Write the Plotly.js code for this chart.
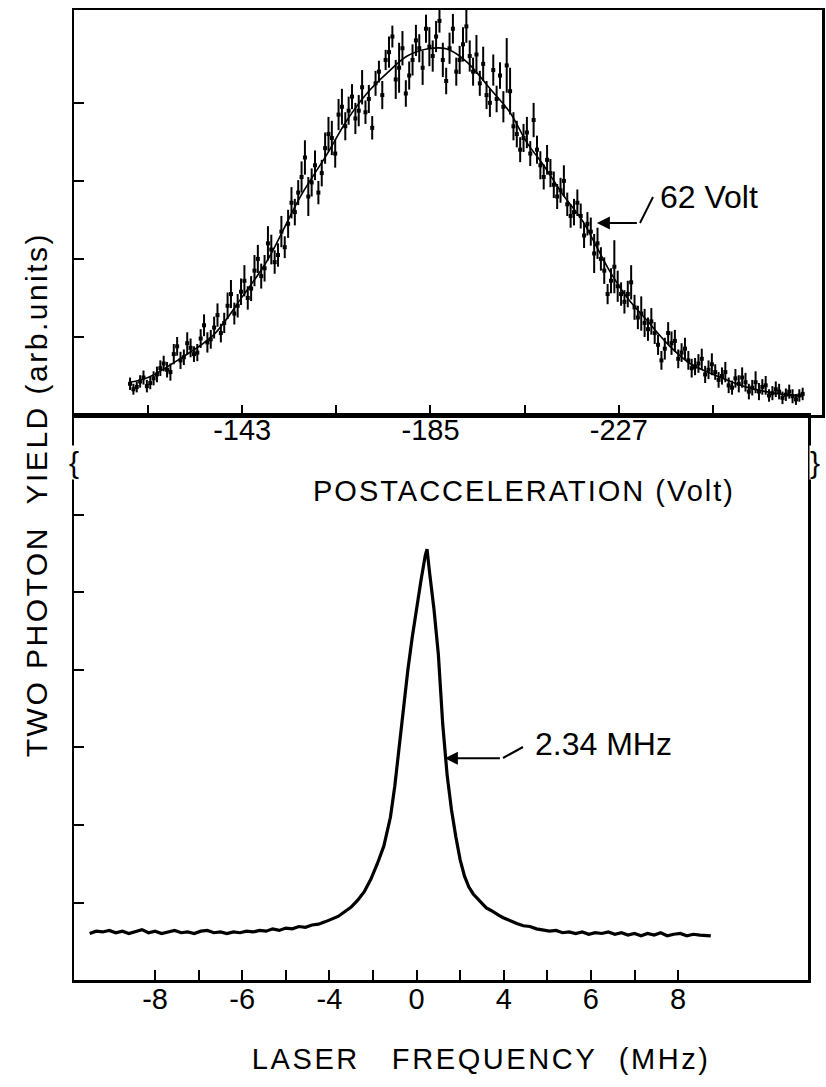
<!DOCTYPE html>
<html><head><meta charset="utf-8">
<script src="https://cdn.plot.ly/plotly-3.0.1.min.js"></script>
<style>html,body{margin:0;padding:0;background:#fff}#chart{width:826px;height:1087px}</style>
</head><body><div id="chart"></div>
<script>
// ---- Top panel: two-photon yield vs postacceleration voltage (two interleaved sweeps) ----
const postVoltA = [-118.0,-119.5,-121.0,-122.5,-124.0,-125.5,-127.0,-128.5,-130.0,-131.5,-133.0,-134.5,-136.0,-137.5,-139.0,-140.5,-142.0,-143.5,-145.0,-146.5,-148.0,-149.5,-151.0,-152.5,-154.0,-155.5,-157.0,-158.5,-160.0,-161.5,-163.0,-164.5,-166.0,-167.5,-169.0,-170.5,-172.0,-173.5,-175.0,-176.5,-178.0,-179.5,-181.0,-182.5,-184.0,-185.5,-187.0,-188.5,-190.0,-191.5,-193.0,-194.5,-196.0,-197.5,-199.0,-200.5,-202.0,-203.5,-205.0,-206.5,-208.0,-209.5,-211.0,-212.5,-214.0,-215.5,-217.0,-218.5,-220.0,-221.5,-223.0,-224.5,-226.0,-227.5,-229.0,-230.5,-232.0,-233.5,-235.0,-236.5,-238.0,-239.5,-241.0,-242.5,-244.0,-245.5,-247.0,-248.5,-250.0,-251.5,-253.0,-254.5,-256.0,-257.5,-259.0,-260.5,-262.0,-263.5,-265.0,-266.5,-268.0];
const postYieldA = [0.40,0.36,0.48,0.41,0.52,0.66,0.55,0.88,0.74,0.86,0.80,1.15,0.97,1.28,1.18,1.55,1.40,1.72,1.62,2.00,1.88,2.12,2.05,2.15,2.72,2.85,3.30,2.98,2.85,3.42,3.55,3.85,3.70,4.08,3.90,3.88,3.68,4.40,4.55,4.85,4.45,4.12,4.55,4.70,4.95,4.60,5.05,4.28,4.95,4.55,4.98,4.40,4.25,4.10,4.42,4.35,4.48,3.70,3.40,3.62,3.78,3.20,3.27,2.95,2.88,2.70,2.60,2.55,2.45,2.07,2.00,1.55,1.90,1.55,1.55,1.38,1.30,1.10,1.05,0.70,1.05,0.95,0.80,0.70,0.62,0.72,0.58,0.55,0.50,0.38,0.47,0.48,0.30,0.42,0.36,0.25,0.33,0.22,0.30,0.20,0.27];
const postErrA = [0.08,0.07,0.09,0.08,0.10,0.10,0.11,0.12,0.10,0.12,0.11,0.14,0.12,0.15,0.13,0.18,0.15,0.20,0.16,0.18,0.17,0.19,0.15,0.14,0.20,0.16,0.22,0.18,0.15,0.20,0.22,0.20,0.18,0.16,0.20,0.15,0.15,0.14,0.13,0.14,0.32,0.17,0.20,0.18,0.18,0.20,0.15,0.17,0.19,0.18,0.21,0.18,0.16,0.18,0.20,0.17,0.35,0.18,0.16,0.20,0.22,0.18,0.19,0.17,0.16,0.15,0.17,0.16,0.15,0.25,0.15,0.13,0.34,0.15,0.17,0.16,0.22,0.15,0.14,0.12,0.14,0.14,0.12,0.12,0.11,0.13,0.12,0.10,0.11,0.10,0.12,0.13,0.10,0.14,0.10,0.08,0.10,0.08,0.09,0.07,0.08];
const postVoltB = [-118.75,-120.25,-121.75,-123.25,-124.75,-126.25,-127.75,-129.25,-130.75,-132.25,-133.75,-135.25,-136.75,-138.25,-139.75,-141.25,-142.75,-144.25,-145.75,-147.25,-148.75,-150.25,-151.75,-153.25,-154.75,-156.25,-157.75,-159.25,-160.75,-162.25,-163.75,-165.25,-166.75,-168.25,-169.75,-171.25,-172.75,-174.25,-175.75,-177.25,-178.75,-180.25,-181.75,-183.25,-184.75,-186.25,-187.75,-189.25,-190.75,-192.25,-193.75,-195.25,-196.75,-198.25,-199.75,-201.25,-202.75,-204.25,-205.75,-207.25,-208.75,-210.25,-211.75,-213.25,-214.75,-216.25,-217.75,-219.25,-220.75,-222.25,-223.75,-225.25,-226.75,-228.25,-229.75,-231.25,-232.75,-234.25,-235.75,-237.25,-238.75,-240.25,-241.75,-243.25,-244.75,-246.25,-247.75,-249.25,-250.75,-252.25,-253.75,-255.25,-256.75,-258.25,-259.75,-261.25,-262.75,-264.25,-265.75,-267.25];
const postYieldB = [0.33,0.43,0.37,0.47,0.60,0.58,0.78,0.70,0.92,0.78,0.98,0.93,1.12,1.05,1.40,1.30,1.58,1.50,1.85,1.78,2.20,1.96,2.35,2.45,2.60,3.05,2.80,3.20,3.10,3.60,3.35,3.95,3.90,3.80,4.20,4.05,4.25,4.10,4.65,4.30,4.70,4.35,4.80,4.45,4.72,4.85,4.55,4.70,4.40,4.75,4.60,4.62,4.50,4.00,4.05,3.95,4.15,3.60,3.55,3.35,3.40,3.05,3.10,2.80,3.00,2.55,2.72,2.30,2.35,2.20,1.85,1.72,1.65,1.45,1.70,1.25,1.18,1.20,0.90,0.85,0.92,0.72,0.85,0.60,0.66,0.52,0.65,0.45,0.55,0.35,0.40,0.42,0.35,0.30,0.38,0.28,0.30,0.26,0.24,0.25];
const postErrB = [0.07,0.08,0.08,0.09,0.10,0.10,0.13,0.11,0.14,0.10,0.12,0.13,0.14,0.12,0.17,0.14,0.17,0.15,0.20,0.16,0.22,0.15,0.20,0.18,0.17,0.20,0.25,0.19,0.17,0.22,0.18,0.23,0.18,0.20,0.22,0.18,0.16,0.18,0.20,0.25,0.22,0.18,0.20,0.22,0.25,0.20,0.22,0.20,0.18,0.22,0.20,0.25,0.22,0.18,0.17,0.20,0.30,0.17,0.18,0.16,0.18,0.16,0.18,0.16,0.20,0.15,0.17,0.16,0.18,0.20,0.17,0.16,0.20,0.15,0.22,0.15,0.18,0.17,0.13,0.14,0.15,0.12,0.14,0.12,0.12,0.11,0.14,0.10,0.13,0.09,0.11,0.12,0.10,0.11,0.12,0.09,0.10,0.08,0.09,0.08];
const fitVolt = [-118,-122,-129.1,-136.5,-143.2,-148.5,-155.9,-161.9,-166.4,-170.8,-175.3,-179.8,-184.2,-188.7,-193.2,-198.3,-202.7,-206.5,-210.1,-214.6,-219,-222.1,-225,-228.8,-233.3,-238.4,-242.9,-248.9,-254.7,-260.7,-268.1];
const fitYield = [0.42,0.48,0.72,1.02,1.53,1.97,2.79,3.34,3.78,4.12,4.38,4.60,4.69,4.69,4.52,4.18,3.88,3.49,3.21,2.82,2.48,2.15,1.84,1.51,1.21,0.88,0.66,0.50,0.37,0.29,0.24];
const topTickVals = [-122,-143,-164,-185,-206,-227,-248];
const topTickText = ['','-143','','-185','','-227',''];

// ---- Bottom panel: two-photon yield vs laser frequency (axis in tick-position units) ----
const freqPos = [-9.5,-9.35,-9.2,-9.05,-8.9,-8.75,-8.6,-8.45,-8.3,-8.15,-8.0,-7.85,-7.7,-7.55,-7.4,-7.25,-7.1,-6.95,-6.8,-6.65,-6.5,-6.35,-6.2,-6.05,-5.9,-5.75,-5.6,-5.45,-5.3,-5.15,-5.0,-4.85,-4.7,-4.55,-4.4,-4.25,-4.1,-3.95,-3.8,-3.65,-3.5,-3.35,-3.2,-3.05,-2.9,-2.75,-2.6,-2.5,-2.4,-2.3,-2.2,-2.1,-2.0,-1.9,-1.8,-1.76,-1.7,-1.6,-1.5,-1.4,-1.3,-1.2,-1.1,-1.0,-0.9,-0.8,-0.7,-0.6,-0.5,-0.4,-0.3,-0.2,-0.1,0.0,0.15,0.3,0.45,0.6,0.75,0.9,1.05,1.2,1.35,1.5,1.65,1.8,1.95,2.1,2.25,2.4,2.55,2.7,2.85,3.0,3.15,3.3,3.45,3.6,3.75,3.9,4.05,4.2,4.35,4.5,4.65,4.75];
const freqYield = [0.60,0.63,0.62,0.64,0.61,0.63,0.60,0.62,0.65,0.61,0.63,0.60,0.62,0.64,0.61,0.62,0.60,0.63,0.64,0.61,0.62,0.60,0.62,0.61,0.63,0.62,0.64,0.63,0.66,0.64,0.67,0.66,0.69,0.68,0.71,0.72,0.75,0.78,0.82,0.88,0.94,1.03,1.14,1.30,1.50,1.73,2.10,2.50,3.00,3.52,4.00,4.42,4.80,5.15,5.48,5.56,5.25,4.78,4.20,3.30,2.65,2.20,1.85,1.55,1.34,1.20,1.11,1.05,0.99,0.93,0.90,0.86,0.83,0.80,0.76,0.73,0.70,0.69,0.66,0.65,0.63,0.64,0.61,0.62,0.60,0.62,0.59,0.61,0.60,0.62,0.59,0.61,0.58,0.60,0.57,0.60,0.58,0.61,0.57,0.59,0.60,0.57,0.59,0.58,0.57,0.57];
const botTickVals = [-8,-7,-6,-5,-4,-3,-2,-1,0,1,2,3,4];
const botTickText = ['-8','','-6','','-4','','0','','4','','6','','8'];

const W = 826, H = 1087;
const px = v => v / W;
const py = v => 1 - v / H;
const FONT = 'Liberation Sans, Arial, Helvetica, sans-serif';

const errStyle = {type: 'data', visible: true, color: '#000', thickness: 2, width: 0};
const traces = [
  {x: postVoltA, y: postYieldA, type: 'scatter', mode: 'markers', xaxis: 'x', yaxis: 'y',
   marker: {color: '#000', size: 4, symbol: 'square'},
   error_y: Object.assign({array: postErrA}, errStyle), hoverinfo: 'skip', showlegend: false},
  {x: postVoltB, y: postYieldB, type: 'scatter', mode: 'markers', xaxis: 'x', yaxis: 'y',
   marker: {color: '#000', size: 4, symbol: 'square'},
   error_y: Object.assign({array: postErrB}, errStyle), hoverinfo: 'skip', showlegend: false},
  {x: fitVolt, y: fitYield, type: 'scatter', mode: 'lines', xaxis: 'x', yaxis: 'y',
   line: {color: '#000', width: 1.6, shape: 'spline', smoothing: 1}, showlegend: false},
  {x: freqPos, y: freqYield, type: 'scatter', mode: 'lines', xaxis: 'x2', yaxis: 'y2',
   line: {color: '#000', width: 3.2}, showlegend: false}
];

const axCommon = {showgrid: false, zeroline: false, showline: true, linecolor: '#000', linewidth: 2.5,
  mirror: true, ticks: 'inside', ticklen: 10, tickwidth: 2, tickcolor: '#000',
  tickfont: {family: FONT, size: 29, color: '#000'}};

const layout = {
  width: W, height: H, margin: {l: 0, r: 0, t: 0, b: 0},
  paper_bgcolor: '#fff', plot_bgcolor: '#fff', showlegend: false,
  font: {family: FONT, color: '#000'},
  xaxis: Object.assign({}, axCommon, {domain: [px(74), px(822)], range: [-105.50, -272.31], anchor: 'y',
    tickmode: 'array', tickvals: topTickVals, ticktext: topTickText, ticklabelstandoff: -12}),
  yaxis: Object.assign({}, axCommon, {domain: [py(415), py(10)], range: [0, 5.19], anchor: 'x',
    tickmode: 'array', tickvals: [1, 2, 3, 4], showticklabels: false}),
  xaxis2: Object.assign({}, axCommon, {domain: [px(74), px(808)], range: [-9.859, 6.98], anchor: 'y2',
    tickmode: 'array', tickvals: botTickVals, ticktext: botTickText, ticklabelstandoff: -8}),
  yaxis2: Object.assign({}, axCommon, {domain: [py(980), py(415)], range: [0, 7.29], anchor: 'x2',
    tickmode: 'array', tickvals: [1, 2, 3, 4, 5, 6], showticklabels: false}),
  annotations: [
    {text: 'TWO PHOTON\u00a0\u00a0YIELD (arb.units)', xref: 'paper', yref: 'paper', x: px(37), y: py(495),
     xanchor: 'center', yanchor: 'middle', textangle: -90, showarrow: false,
     font: {family: FONT, size: 30, color: '#000'}},
    {text: 'POSTACCELERATION (Volt)', xref: 'paper', yref: 'paper', x: px(524), y: py(491),
     xanchor: 'center', yanchor: 'middle', showarrow: false, font: {family: FONT, size: 29, color: '#000'}},
    {text: 'LASER\u00a0\u00a0\u00a0FREQUENCY\u00a0\u00a0(MHz)', xref: 'paper', yref: 'paper', x: px(481), y: py(1059),
     xanchor: 'center', yanchor: 'middle', showarrow: false, font: {family: FONT, size: 29, color: '#000'}},
    {text: '62 Volt', xref: 'paper', yref: 'paper', x: px(658), y: py(197), xanchor: 'left', yanchor: 'middle',
     showarrow: false, font: {family: FONT, size: 32, color: '#000'}},
    {text: ' ', xref: 'x', yref: 'y', x: -222.1, y: 2.46, ax: 43, ay: 0, showarrow: true,
     arrowhead: 2, arrowsize: 1.3, arrowwidth: 2, arrowcolor: '#000'},
    {text: '2.34 MHz', xref: 'paper', yref: 'paper', x: px(533), y: py(744), xanchor: 'left', yanchor: 'middle',
     showarrow: false, font: {family: FONT, size: 32, color: '#000'}},
    {text: ' ', xref: 'x2', yref: 'y2', x: -1.35, y: 2.86, ax: 58, ay: 0, showarrow: true,
     arrowhead: 2, arrowsize: 1.3, arrowwidth: 2, arrowcolor: '#000'},
    {text: '{', xref: 'paper', yref: 'paper', x: px(74), y: py(462), xanchor: 'center', yanchor: 'middle',
     showarrow: false, bgcolor: '#fff', borderpad: 0, font: {family: FONT, size: 30, color: '#000'}},
    {text: '}', xref: 'paper', yref: 'paper', x: px(815), y: py(462), xanchor: 'center', yanchor: 'middle',
     showarrow: false, bgcolor: '#fff', borderpad: 0, font: {family: FONT, size: 30, color: '#000'}}
  ],
  shapes: [
    {type: 'line', xref: 'paper', yref: 'paper', x0: px(640), y0: py(223), x1: px(653), y1: py(197),
     line: {color: '#000', width: 2}},
    {type: 'line', xref: 'paper', yref: 'paper', x0: px(503), y0: py(758), x1: px(523), y1: py(747),
     line: {color: '#000', width: 2}}
  ]
};

const spacing = {'TWO PHOTON': '2.5px', 'POSTACCELERATION': '2px', 'LASER': '2.6px'};
Plotly.newPlot('chart', traces, layout, {displayModeBar: false, staticPlot: true}).then(gd => {
  gd.querySelectorAll('.annotation-text').forEach(t => {
    const s = t.textContent;
    Object.keys(spacing).forEach(k => { if (s.indexOf(k) === 0) t.style.letterSpacing = spacing[k]; });
  });
});
</script>
</body></html>
